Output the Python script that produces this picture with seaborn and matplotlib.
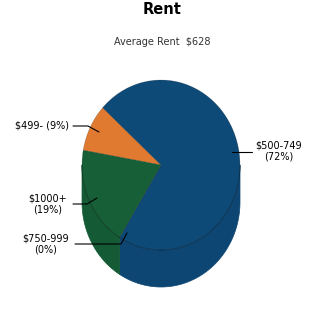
import numpy as np
import matplotlib
matplotlib.use("Agg")
import matplotlib.pyplot as plt
import seaborn as sns
from matplotlib.patches import Polygon

sns.set_theme(style="white")
plt.rcParams['font.family'] = ['DejaVu Sans']
plt.rcParams['text.color'] = 'black'

categories = ["$499-", "$500-749", "$750-999", "$1000+"]
shares = [9, 72, 0, 19]
colors = ["#e07a30", "#0e4a78", "#165f37", "#165f37"]
side_colors = ["#d57430", "#0d4673", "#145a34", "#145a34"]
title = "Rent"
subtitle = "Average Rent  $628"

W = H = 325
cx, cy = 161, 165
rx, ry = 79, 85
depth = 37 / ry
start = 170.0

fig = plt.figure(figsize=(3.25, 3.25), dpi=100)
ax = fig.add_axes([0, 0, 1, 1])

# side walls (clockwise slices)
total = float(sum(shares))
a = start
for val, sc in zip(shares, side_colors):
    sweep = 360.0 * val / total
    a0, a1 = a - sweep, a
    a = a0
    for off in (-360, 0, 360):
        lo, hi = max(a0 + off, 180), min(a1 + off, 360)
        if hi > lo:
            t = np.radians(np.linspace(lo, hi, 80))
            xs = np.cos(t); ys = np.sin(t)
            pts = np.concatenate([np.c_[xs, ys], np.c_[xs[::-1], ys[::-1] - depth]])
            ax.add_patch(Polygon(pts, closed=True, fc=sc, ec=sc, lw=0.5, zorder=1))

# top face
wedges, _ = ax.pie(shares, colors=colors, startangle=start, counterclock=False,
                   radius=1, center=(0, 0), frame=True,
                   wedgeprops=dict(linewidth=0.4, edgecolor="#00000040"))
for w in wedges:
    w.set_zorder(2)
ax.set_xlim(-cx / rx, (W - cx) / rx)
ax.set_ylim(-(H - cy) / ry, cy / ry)
ax.set_aspect('auto')
ax.axis('off')

# faint edge arc of top face
t = np.radians(np.linspace(180, 360, 200))
ax.plot(np.cos(t), np.sin(t), color="#00000030", lw=0.8, zorder=3)

def px(x, y):
    return ((x - cx) / rx, (cy - y) / ry)

def leader(points):
    p = [px(*q) for q in points]
    ax.plot([q[0] for q in p], [q[1] for q in p], color="black", lw=0.8, zorder=4)

fs = 7
ax.text(*px(42, 126), f"{categories[0]} ({shares[0]}%)", ha='center', va='center', fontsize=fs, color='black')
leader([(73, 126), (88, 126), (99, 132)])
ax.text(*px(279, 151), f"{categories[1]}\n({shares[1]}%)", ha='center', va='center', fontsize=fs, linespacing=1.05, color='black')
leader([(232, 152), (252, 152)])
ax.text(*px(46, 244), f"{categories[2]}\n({shares[2]}%)", ha='center', va='center', fontsize=fs, linespacing=1.05, color='black')
leader([(75, 244), (121, 244), (127, 233)])
ax.text(*px(48, 204), f"{categories[3]}\n({shares[3]}%)", ha='center', va='center', fontsize=fs, linespacing=1.05, color='black')
leader([(73, 204), (87, 204), (97, 198)])

fig.text(162 / W, 1 - 9 / H, title, ha='center', va='center', fontsize=10.5, fontweight='bold', color='black')
fig.text(162 / W, 1 - 42 / H, subtitle, ha='center', va='center', fontsize=7, color="#333333")

fig.savefig("out.png", dpi=100)
